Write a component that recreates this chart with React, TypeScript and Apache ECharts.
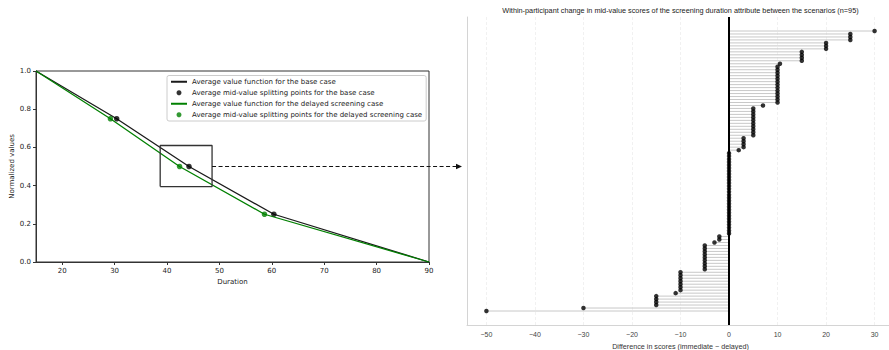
import React, { useEffect, useRef } from "react";
import * as echarts from "echarts";

// ---------- Left panel data ----------
const durationTicks = [20, 30, 40, 50, 60, 70, 80, 90];
const baseX = [15, 30.4, 44.2, 60.4, 90];
const baseY = [1.0, 0.75, 0.5, 0.25, 0.0];
const delayedX = [15, 29.2, 42.4, 58.6, 90];
const delayedY = [1.0, 0.75, 0.5, 0.25, 0.0];
const baseMidX = [30.4, 44.2, 60.4];
const delayedMidX = [29.2, 42.4, 58.6];
const midY = [0.75, 0.5, 0.25];
const zoomBoxX = [38.7, 48.6];
const zoomBoxY = [0.395, 0.61];

const legendNames = [
  "Average value function for the base case",
  "Average mid-value splitting points for the base case",
  "Average value function for the delayed screening case",
  "Average mid-value splitting points for the delayed screening case",
];

// ---------- Right panel data (sorted, n=95) ----------
const diffs = [
  -50, -30,
  -15, -15, -15, -15,
  -11,
  -10, -10, -10, -10, -10, -10, -10,
  -5, -5, -5, -5, -5, -5, -5, -5, -5,
  -3,
  -2, -2,
  0, 0, 0, 0, 0, 0, 0, 0, 0, 0, 0, 0, 0, 0, 0, 0, 0, 0, 0, 0, 0, 0, 0, 0, 0, 0, 0, 0,
  2,
  3, 3, 3, 3,
  5, 5, 5, 5, 5, 5, 5, 5, 5, 5,
  7,
  10, 10, 10, 10, 10, 10, 10, 10, 10, 10, 10, 10, 10,
  10.5,
  15, 15, 15, 15,
  20, 20, 20,
  25, 25, 25,
  30,
];
const diffTicks = [-50, -40, -30, -20, -10, 0, 10, 20, 30];
const rightTitle =
  "Within-participant change in mid-value scores of the screening duration attribute between the scenarios (n=95)";

const LEFT_FONT = "DejaVu Sans";
const RIGHT_FONT = "Liberation Sans";

export default function App() {
  const ref = useRef<HTMLDivElement>(null);

  useEffect(() => {
    if (!ref.current) return;
    const chart = echarts.init(ref.current, null, { renderer: "svg" });

    const diffData = diffs.map((v, i) => [v, i]);

    const option: any = {
      animation: false,
      backgroundColor: "#ffffff",
      grid: [
        {
          left: 36,
          top: 71,
          width: 393,
          height: 191,
          show: true,
          borderColor: "#333",
          borderWidth: 1,
          backgroundColor: "transparent",
          outerBoundsMode: "none",
        },
        {
          left: 467,
          top: 17,
          right: -5,
          bottom: 25,
          show: false,
          outerBoundsMode: "none",
        },
      ],
      xAxis: [
        {
          type: "value",
          gridIndex: 0,
          min: 15,
          max: 90,
          name: "Duration",
          nameLocation: "middle",
          nameGap: 14,
          nameTextStyle: { fontFamily: LEFT_FONT, fontSize: 7, color: "#222" },
          axisLine: { show: true, onZero: false, lineStyle: { color: "#333", width: 1 } },
          axisTick: { show: true, customValues: durationTicks, length: 3, lineStyle: { color: "#333" } },
          axisLabel: {
            customValues: durationTicks,
            fontFamily: LEFT_FONT,
            fontSize: 7,
            color: "#222",
            margin: 5,
          },
          splitLine: { show: false },
        },
        {
          type: "value",
          gridIndex: 1,
          min: -54,
          max: 34,
          name: "Difference in scores (immediate \u2212 delayed)",
          nameLocation: "middle",
          nameGap: 12,
          nameTextStyle: { fontFamily: RIGHT_FONT, fontSize: 7.2, color: "#333" },
          axisLine: { show: true, onZero: false, lineStyle: { color: "#d4d4d4", width: 1 } },
          axisTick: { show: false },
          axisLabel: {
            customValues: diffTicks,
            fontFamily: RIGHT_FONT,
            fontSize: 7,
            color: "#444",
            margin: 6,
            formatter: (v: number) => String(v).replace("-", "\u2212"),
          },
          splitLine: { show: false },
        },
      ],
      yAxis: [
        {
          type: "value",
          gridIndex: 0,
          min: 0,
          max: 1,
          interval: 0.2,
          name: "Normalized values",
          nameLocation: "middle",
          nameGap: 20,
          nameTextStyle: { fontFamily: LEFT_FONT, fontSize: 7, color: "#222" },
          axisLine: { show: true, onZero: false, lineStyle: { color: "#333", width: 1 } },
          axisTick: { show: true, length: 3, lineStyle: { color: "#333" } },
          axisLabel: {
            fontFamily: LEFT_FONT,
            fontSize: 7,
            color: "#222",
            margin: 5,
            formatter: (v: number) => v.toFixed(1),
          },
          splitLine: { show: false },
        },
        {
          type: "value",
          gridIndex: 1,
          min: -4.7,
          max: 98.7,
          axisLine: { show: true, onZero: false, lineStyle: { color: "#d4d4d4", width: 1 } },
          axisTick: { show: false },
          axisLabel: { show: false },
          splitLine: { show: false },
        },
      ],
      legend: {
        orient: "vertical",
        left: 167,
        top: 75.5,
        data: [
          { name: legendNames[0], itemStyle: { opacity: 0 } },
          { name: legendNames[1] },
          { name: legendNames[2], itemStyle: { opacity: 0 } },
          { name: legendNames[3] },
        ],
        itemWidth: 16,
        itemHeight: 5,
        itemGap: 2.5,
        padding: [2, 4, 2, 3],
        borderColor: "#cccccc",
        borderWidth: 1,
        borderRadius: 2,
        backgroundColor: "rgba(255,255,255,0.85)",
        textStyle: { fontFamily: LEFT_FONT, fontSize: 7, color: "#222", lineHeight: 8.5 },
      },
      series: [
        {
          name: legendNames[0],
          type: "line",
          xAxisIndex: 0,
          yAxisIndex: 0,
          data: baseX.map((x, i) => [x, baseY[i]]),
          symbol: "none",
          clip: false,
          color: "#1a1a1a",
          lineStyle: { color: "#1a1a1a", width: 1.3 },
          z: 2,
        },
        {
          name: legendNames[1],
          type: "scatter",
          xAxisIndex: 0,
          yAxisIndex: 0,
          data: baseMidX.map((x, i) => [x, midY[i]]),
          symbol: "circle",
          symbolSize: 5.5,
          itemStyle: { color: "#000000" },
          z: 3,
        },
        {
          name: legendNames[2],
          type: "line",
          xAxisIndex: 0,
          yAxisIndex: 0,
          data: delayedX.map((x, i) => [x, delayedY[i]]),
          symbol: "none",
          clip: false,
          color: "#008000",
          lineStyle: { color: "#008000", width: 1.3 },
          z: 4,
        },
        {
          name: legendNames[3],
          type: "scatter",
          xAxisIndex: 0,
          yAxisIndex: 0,
          data: delayedMidX.map((x, i) => [x, midY[i]]),
          symbol: "circle",
          symbolSize: 5.5,
          itemStyle: { color: "#008000" },
          z: 5,
        },
        {
          name: "zoomBox",
          type: "line",
          xAxisIndex: 0,
          yAxisIndex: 0,
          data: [
            [zoomBoxX[0], zoomBoxY[0]],
            [zoomBoxX[1], zoomBoxY[0]],
            [zoomBoxX[1], zoomBoxY[1]],
            [zoomBoxX[0], zoomBoxY[1]],
            [zoomBoxX[0], zoomBoxY[0]],
          ],
          symbol: "none",
          color: "#333",
          lineStyle: { color: "#333", width: 1.3 },
          z: 6,
        },
        // Right panel: gridlines + stems
        {
          name: "stems",
          type: "custom",
          xAxisIndex: 1,
          yAxisIndex: 1,
          data: diffData,
          clip: false,
          z: 2,
          renderItem: (params: any, api: any) => {
            const v = api.value(0);
            const i = api.value(1);
            const p0 = api.coord([0, i]);
            const p1 = api.coord([v, i]);
            return {
              type: "line",
              shape: { x1: p0[0], y1: p0[1], x2: p1[0], y2: p1[1] },
              style: { stroke: "#c8c8c8", lineWidth: 1 },
            };
          },
          markLine: {
            silent: true,
            symbol: "none",
            label: { show: false },
            lineStyle: { color: "#ededed", width: 0.8, type: [3, 2] },
            data: diffTicks.map((v) => ({ xAxis: v })),
            z: 1,
          },
        },
        {
          name: "diffs",
          type: "scatter",
          xAxisIndex: 1,
          yAxisIndex: 1,
          data: diffData,
          symbol: "circle",
          symbolSize: 4.5,
          clip: false,
          itemStyle: { color: "#000000" },
          z: 4,
          markLine: {
            silent: true,
            symbol: "none",
            label: { show: false },
            lineStyle: { color: "#000000", width: 2, type: "solid" },
            data: [{ xAxis: 0 }],
            z: 3,
          },
        },
      ],
    };

    chart.setOption(option);

    const start = chart.convertToPixel({ gridIndex: 0 }, [zoomBoxX[1], 0.5]) as number[];
    const rMin = chart.convertToPixel({ xAxisIndex: 1 }, -54) as unknown as number;
    const rMax = chart.convertToPixel({ xAxisIndex: 1 }, 34) as unknown as number;
    const gridTop = chart.convertToPixel({ yAxisIndex: 1 }, 98.7) as unknown as number;
    const tipX = rMin - 5;
    const y = start[1];

    chart.setOption({
      graphic: [
        {
          type: "line",
          shape: { x1: start[0], y1: y, x2: tipX - 6, y2: y },
          style: { stroke: "#111", lineWidth: 1.2, lineDash: [4, 2.5] },
          z: 10,
        },
        {
          type: "polygon",
          shape: { points: [[tipX - 6, y - 2.7], [tipX, y], [tipX - 6, y + 2.7]] },
          style: { fill: "#111" },
          z: 10,
        },
        {
          type: "text",
          x: (rMin + rMax) / 2,
          y: gridTop - 7,
          style: {
            text: rightTitle,
            fontFamily: RIGHT_FONT,
            fontSize: 7.3,
            fill: "#222",
            align: "center",
            verticalAlign: "middle",
          },
          z: 10,
        },
      ],
    });

    return () => chart.dispose();
  }, []);

  return (
    <div
      ref={ref}
      style={{ position: "fixed", left: 0, top: 0, width: 889, height: 350, background: "#fff" }}
    />
  );
}
